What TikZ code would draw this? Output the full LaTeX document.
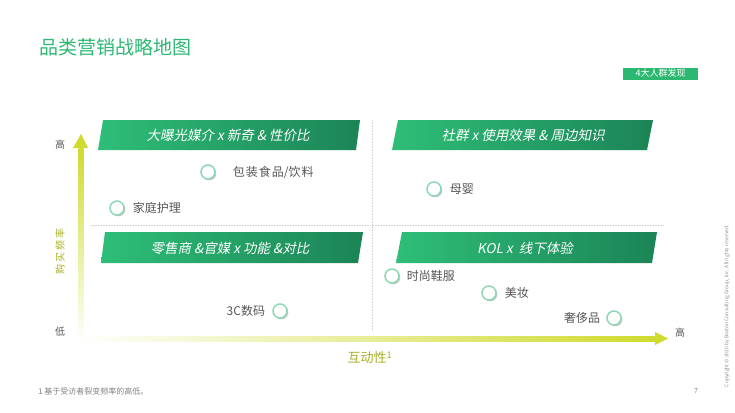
\documentclass[tikz,border=0pt]{standalone}
\usepackage{fontspec}
\setmainfont{Noto Sans CJK SC}
\newfontfamily\bannerfont[FakeSlant=0.2]{Noto Sans CJK SC}
\usetikzlibrary{positioning,shadows}

\definecolor{titlegreen}{RGB}{45,184,114}
\definecolor{bannerlight}{RGB}{46,190,120}
\definecolor{bannerdark}{RGB}{28,132,86}
\definecolor{ringgreen}{RGB}{142,214,180}
\definecolor{axiscol}{RGB}{207,219,46}
\definecolor{axistext}{RGB}{166,176,32}
\definecolor{textgray}{RGB}{85,85,85}

\begin{document}
\begin{tikzpicture}[x=1pt,y=-1pt,
  banner/.style={left color=bannerlight, right color=bannerdark},
  bannertext/.style={text=white, font=\bannerfont\fontsize{13.5}{13.5}\selectfont, inner sep=0pt},
  dot/.style={circle, draw=ringgreen, line width=1.5pt, fill=white, minimum size=14pt, inner sep=0pt,
    drop shadow={shadow xshift=1.3pt, shadow yshift=-1.3pt, opacity=.45}},
  item/.style={text=textgray, font=\fontsize{12}{12}\selectfont, inner sep=0pt},
  divider/.style={draw=black!18, densely dotted, line width=0.6pt},
  axislabel/.style={text=textgray, font=\fontsize{10}{10}\selectfont, inner sep=0pt}]

  \useasboundingbox (0,0) rectangle (735,412);

  % title and tag
  \node[anchor=west, text=titlegreen, font=\fontsize{19}{19}\selectfont, inner sep=0pt] (title) at (39,47.5) {品类营销战略地图};
  \node[fill=titlegreen, text=white, font=\fontsize{9}{9}\selectfont, minimum width=75pt, minimum height=12pt, inner sep=0pt] (tag) at (660.5,73.5) {4大人群发现};

  % quadrant dividers
  \coordinate (vtop) at (372,120);
  \coordinate (vbot) at (372,330);
  \coordinate (hleft) at (90,225);
  \coordinate (hright) at (663,225);
  \draw[divider] (vtop) -- (vbot);
  \draw[divider] (hleft) -- (hright);

  % banners
  \shade[banner] (98,150) -- (103,120) -- (360,120) -- (356,150) -- cycle;
  \shade[banner] (392,150) -- (398,120) -- (653,120) -- (647,150) -- cycle;
  \shade[banner] (101,263) -- (105,232) -- (363,232) -- (358,263) -- cycle;
  \shade[banner] (396,263) -- (402,232) -- (657,232) -- (652,263) -- cycle;
  \node[bannertext] (b-media) at (228,135) {大曝光媒介 x 新奇 \& 性价比};
  \node[bannertext] (b-social) at (523,135) {社群 x 使用效果 \& 周边知识};
  \node[bannertext] (b-retail) at (230,248) {零售商 \&官媒 x 功能 \&对比};
  \node[bannertext] (b-kol) at (525,248) {KOL x\ \ 线下体验};

  % axes
  \shade[top color=axiscol, bottom color=white] (78.5,342) rectangle (83.5,148);
  \fill[axiscol] (73,148) -- (81,134) -- (88,148) -- cycle;
  \shade[left color=white, right color=axiscol] (78,336) rectangle (655,341);
  \fill[axiscol] (655,332) -- (668,338.5) -- (655,345) -- cycle;
  \node[axislabel] (y-hi) at (60,145) {高};
  \node[axislabel] (y-lo) at (60,332) {低};
  \node[axislabel] (x-hi) at (680,333) {高};
  \node[text=axistext, font=\fontsize{10}{10}\selectfont, rotate=90, inner sep=0pt] (y-title) at (60,251) {购\hspace{2pt}买\hspace{2pt}频\hspace{2pt}率};
  \node[text=axistext, font=\fontsize{13}{13}\selectfont, inner sep=0pt] (x-title) at (370,357.5) {互动性\textsuperscript{1}};

  % categories
  \node[dot] (c-pack) at (208,172) {};
  \node[item, right=17pt of c-pack] (t-pack) {包\hspace{1pt}装\hspace{1pt}食\hspace{1pt}品/饮\hspace{1pt}料};
  \node[dot] (c-home) at (117,208) {};
  \node[item, right=8pt of c-home] (t-home) {家庭护理};
  \node[dot] (c-baby) at (434,189) {};
  \node[item, right=8pt of c-baby] (t-baby) {母婴};
  \node[dot] (c-digi) at (280,311) {};
  \node[item, left=7pt of c-digi] (t-digi) {3C数码};
  \node[dot] (c-fash) at (392,276) {};
  \node[item, right=7pt of c-fash] (t-fash) {时尚鞋服};
  \node[dot] (c-beau) at (489,293) {};
  \node[item, right=8pt of c-beau] (t-beau) {美妆};
  \node[dot] (c-luxe) at (614,318) {};
  \node[item, left=6pt of c-luxe] (t-luxe) {奢侈品};

  % footer
  \node[anchor=west, text=black!50, font=\fontsize{8}{8}\selectfont, inner sep=0pt] (note) at (38,391) {1 基于受访者裂变频率的高低。};
  \node[text=black!50, font=\fontsize{7}{7}\selectfont, inner sep=0pt] (page) at (696,391) {7};
  \node[text=black!45, font=\fontsize{5}{5}\selectfont, rotate=90, inner sep=0pt] (copy) at (727,306) {Copyright © 2020 by Boston Consulting Group, Inc. All rights reserved.};
\end{tikzpicture}
\end{document}
